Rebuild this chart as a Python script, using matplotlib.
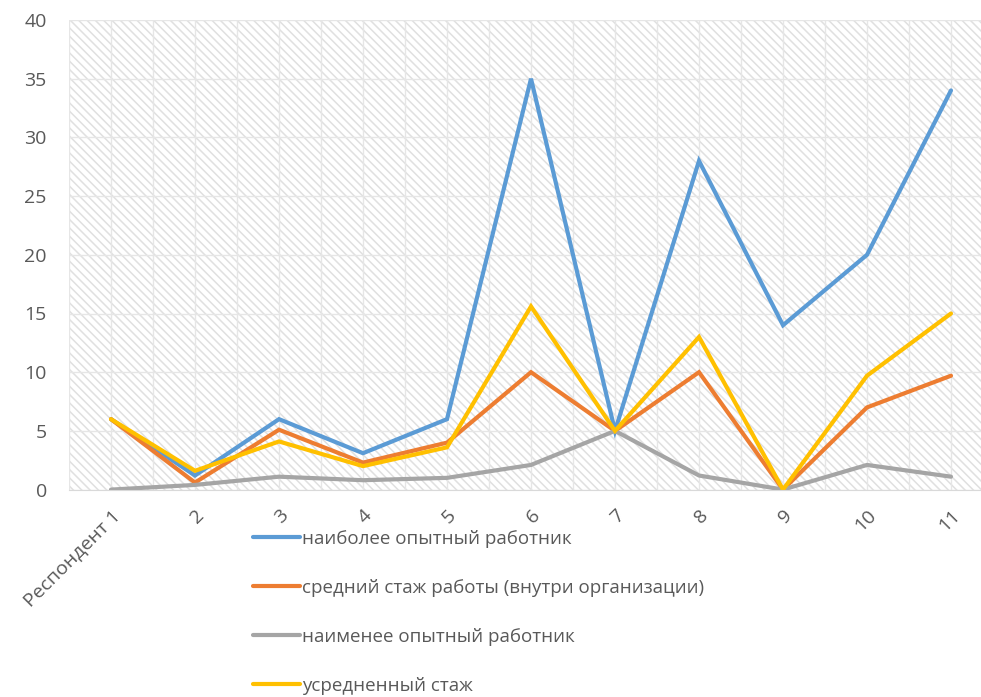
import matplotlib.pyplot as plt
from matplotlib.ticker import MultipleLocator

# data
categories = ['Респондент 1', '2', '3', '4', '5', '6', '7', '8', '9', '10', '11']
most_experienced = [6, 1.2, 6, 3.1, 6, 35, 5, 28, 14, 20, 34]
average_tenure = [6, 0.6, 5.1, 2.3, 4, 10, 5, 10, 0, 7, 9.7]
least_experienced = [0, 0.4, 1.1, 0.8, 1, 2.1, 5, 1.2, 0, 2.1, 1.1]
averaged = [6, 1.6, 4.1, 2, 3.6, 15.6, 5, 13, 0, 9.7, 15]

labels = ['наиболее опытный работник',
          'средний стаж работы (внутри организации)',
          'наименее опытный работник',
          'усредненный стаж']
colors = ['#5B9BD5', '#ED7D31', '#A5A5A5', '#FFC000']

plt.rcParams['font.family'] = ['Open Sans', 'DejaVu Sans']
plt.rcParams['hatch.color'] = '#e0e0e0'
plt.rcParams['hatch.linewidth'] = 1.1

fig = plt.figure(figsize=(9.81, 6.97), dpi=100)
ax = fig.add_axes([69 / 981, 207.4 / 697, 924 / 981, 469.6 / 697])

# hatched background of the plot area
ax.patch.set_facecolor('white')
ax.patch.set_hatch('\\\\\\\\')
ax.patch.set_edgecolor('#e0e0e0')
ax.patch.set_linewidth(0)

x = list(range(len(categories)))
series = [most_experienced, average_tenure, least_experienced, averaged]
for values, label, color in zip(series, labels, colors):
    ax.plot(x, values, color=color, linewidth=3, label=label,
            solid_joinstyle='miter', solid_capstyle='round')

ax.set_xlim(-0.5, len(categories) - 0.5)
ax.set_ylim(0, 40)
ax.yaxis.set_major_locator(MultipleLocator(5))
ax.set_xticks(x)
ax.set_xticks([i - 0.5 for i in range(len(categories) + 1)], minor=True)
ax.set_xticklabels(categories, rotation=45, ha='right', rotation_mode='anchor')

ax.grid(True, which='major', color='#e6e6e6', linewidth=1)
ax.grid(True, which='minor', axis='x', color='#e6e6e6', linewidth=1)
ax.set_axisbelow(True)

for side in ['top', 'right', 'left']:
    ax.spines[side].set_visible(False)
ax.spines['bottom'].set_color('#d9d9d9')
ax.tick_params(which='both', length=0, labelsize=14, colors='#595959')
ax.tick_params(axis='y', pad=16)
ax.tick_params(axis='x', pad=12)

fig.legend(loc='upper left', bbox_to_anchor=(236 / 981, 1 - 513 / 697),
           frameon=False, fontsize=13.5, labelcolor='#595959',
           handlelength=2.5, handletextpad=0.1, labelspacing=1.65)

fig.savefig('out.png', dpi=100)
